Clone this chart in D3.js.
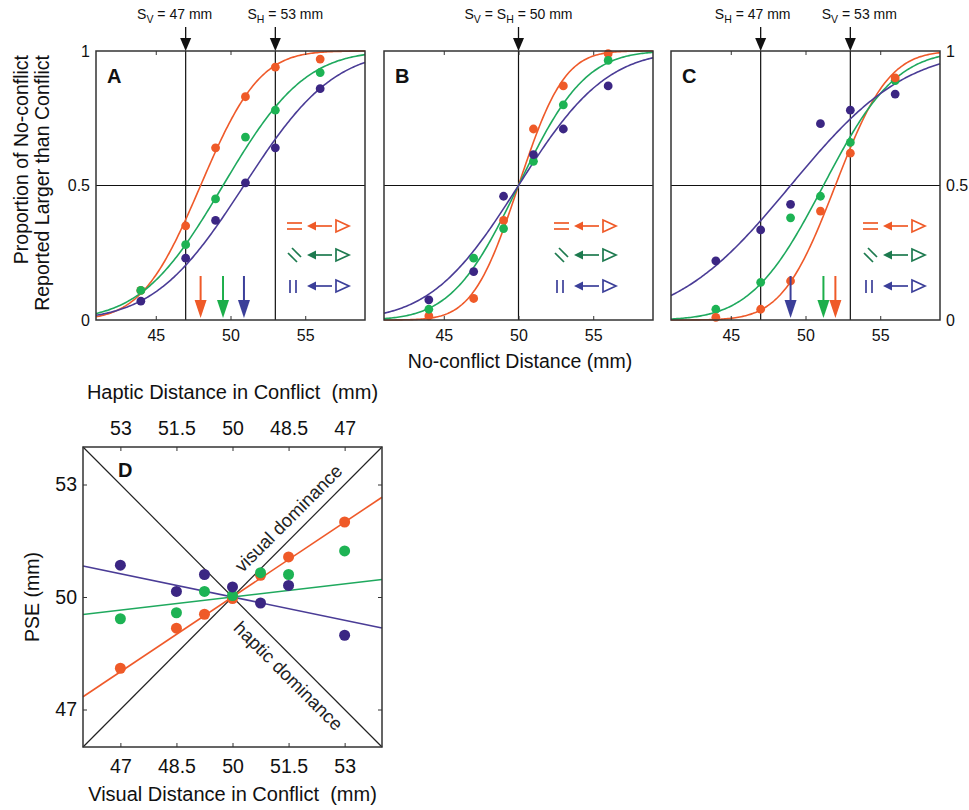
<!DOCTYPE html>
<html>
<head>
<meta charset="utf-8">
<script src="https://cdn.jsdelivr.net/npm/d3@7"></script>
<style>
  body { margin: 0; background: #fff; }
  svg { font-family: "Liberation Sans", Arial, sans-serif; }
</style>
</head>
<body>
<div id="chart"></div>
<script>
// ---- data ----
const distances = [44, 47, 49, 51, 53, 56];
const xTicks = [45, 50, 55];
const yTicks = [0, 0.5, 1];

// proportion "no-conflict larger" : horizontal (=), oblique (\\), vertical (||)
const aHorizontal = [0.11, 0.35, 0.64, 0.83, 0.94, 0.97];
const aOblique    = [0.11, 0.28, 0.45, 0.68, 0.78, 0.92];
const aVertical   = [0.07, 0.23, 0.37, 0.51, 0.64, 0.86];

const bHorizontal = [0.015, 0.08, 0.37, 0.71, 0.87, 0.99];
const bOblique    = [0.04, 0.23, 0.34, 0.59, 0.80, 0.965];
const bVertical   = [0.075, 0.18, 0.46, 0.615, 0.71, 0.87];

const cHorizontal = [0.01, 0.04, 0.145, 0.405, 0.62, 0.90];
const cOblique    = [0.04, 0.14, 0.38, 0.46, 0.66, 0.89];
const cVertical   = [0.22, 0.335, 0.43, 0.73, 0.78, 0.84];

// fitted cumulative gaussians (PSE, sigma)
const pseA = [48.0, 49.5, 50.9], sigmaA = [3.1, 4.3, 4.7];
const pseB = [50.0, 50.0, 50.0], sigmaB = [2.4, 3.5, 4.6];
const pseC = [52.0, 51.2, 49.0], sigmaC = [2.8, 3.8, 6.0];

// standards shown above each panel
const standardsA = [{ value: 47, subs: ['V'] }, { value: 53, subs: ['H'] }];
const standardsB = [{ value: 50, subs: ['V', 'H'] }];
const standardsC = [{ value: 47, subs: ['H'] }, { value: 53, subs: ['V'] }];

// panel D
const dVisual     = [47, 48.5, 49.25, 50, 50.75, 51.5, 53];
const dHorizontal = [48.1, 49.17, 49.54, 49.96, 50.58, 51.07, 52.0];
const dOblique    = [49.42, 49.58, 50.15, 50.04, 50.65, 50.6, 51.23];
const dVertical   = [50.85, 50.15, 50.6, 50.27, 49.84, 50.31, 48.98];
const dSlopes     = [0.665, 0.117, -0.207];
const dTicks      = [47, 48.5, 50, 51.5, 53];
const dYTicks     = [47, 50, 53];

// ---- styling ----
const width = 969, height = 810;
const curveColors = ['#ef5a2a', '#1fa95e', '#4a3c96'];
const dotColors = ['#ef5a28', '#1db354', '#3b2683'];
const arrowColors = ['#ef5a28', '#1cae4a', '#3b3f99'];
const legendColors = ['#ef5a28', '#1d7a4f', '#3b3f99'];
const frameColor = '#333';

function normCdf(z) {
  const x = Math.abs(z) / Math.SQRT2;
  const t = 1 / (1 + 0.3275911 * x);
  const erf = 1 - (((((1.061405429 * t - 1.453152027) * t) + 1.421413741) * t - 0.284496736) * t + 0.254829592) * t * Math.exp(-x * x);
  return 0.5 * (1 + (z < 0 ? -erf : erf));
}

const svg = d3.select('#chart').append('svg')
  .attr('width', width)
  .attr('height', height);

const panelTop = 51, pw = 269, ph = 269;
const panels = [
  { key: 'A', left: 96, props: [aHorizontal, aOblique, aVertical], pse: pseA, sigma: sigmaA,
    standards: standardsA, labelDx: [-11, 10], pseArrows: true, yAxis: 'left', legendX: 191, order: [0, 1, 2] },
  { key: 'B', left: 384, props: [bHorizontal, bOblique, bVertical], pse: pseB, sigma: sigmaB,
    standards: standardsB, labelDx: [0], pseArrows: false, yAxis: null, legendX: 170, order: [0, 1, 2] },
  { key: 'C', left: 671, props: [cHorizontal, cOblique, cVertical], pse: pseC, sigma: sigmaC,
    standards: standardsC, labelDx: [-8, 9], pseArrows: true, yAxis: 'right', legendX: 192, order: [1, 0, 2] }
];

const x = d3.scaleLinear().domain([41, 59]).range([0, pw]);
const y = d3.scaleLinear().domain([0, 1]).range([ph, 0]);
const curveXs = d3.range(41, 59.001, 0.1);
const legendRows = [175, 204, 235];

panels.forEach(p => {
  const g = svg.append('g').attr('transform', `translate(${p.left},${panelTop})`);

  // crosshair lines at the standards and at 0.5
  g.append('line')
    .attr('x1', 0).attr('x2', pw)
    .attr('y1', y(0.5)).attr('y2', y(0.5))
    .attr('stroke', '#111').attr('stroke-width', 1.2);
  g.selectAll('.std').data(p.standards).join('line')
    .attr('x1', d => x(d.value)).attr('x2', d => x(d.value))
    .attr('y1', 0).attr('y2', ph)
    .attr('stroke', '#111').attr('stroke-width', 1.2);

  // fitted curves
  const line = d3.line().x(d => x(d[0])).y(d => y(d[1]));
  p.pse.forEach((m, i) => {
    g.append('path')
      .datum(curveXs.map(v => [v, normCdf((v - m) / p.sigma[i])]))
      .attr('d', line)
      .attr('fill', 'none')
      .attr('stroke', curveColors[i])
      .attr('stroke-width', 1.6);
  });

  // data points
  p.order.forEach(i => {
    g.append('g').selectAll('circle')
      .data(p.props[i].map((v, j) => [distances[j], v]))
      .join('circle')
      .attr('cx', d => x(d[0]))
      .attr('cy', d => y(d[1]))
      .attr('r', 4.4)
      .attr('fill', dotColors[i]);
  });

  // PSE arrows
  if (p.pseArrows) {
    p.pse.forEach((m, i) => {
      const ax = x(m);
      g.append('line')
        .attr('x1', ax).attr('x2', ax).attr('y1', 225).attr('y2', 252)
        .attr('stroke', arrowColors[i]).attr('stroke-width', 2);
      g.append('path')
        .attr('d', `M${ax - 6},249 L${ax + 6},249 L${ax},267 Z`)
        .attr('fill', arrowColors[i]);
    });
  }

  // legend
  legendRows.forEach((cy, i) => {
    const lx = p.legendX;
    const c = legendColors[i];
    const lg = g.append('g').attr('stroke', c).attr('stroke-width', 1.7).attr('fill', 'none');
    if (i === 0) {
      lg.append('line').attr('x1', lx).attr('x2', lx + 15).attr('y1', cy - 3).attr('y2', cy - 3);
      lg.append('line').attr('x1', lx).attr('x2', lx + 15).attr('y1', cy + 3).attr('y2', cy + 3);
    } else if (i === 1) {
      lg.append('line').attr('x1', lx + 1).attr('x2', lx + 10).attr('y1', cy - 2).attr('y2', cy + 7);
      lg.append('line').attr('x1', lx + 5).attr('x2', lx + 14).attr('y1', cy - 7).attr('y2', cy + 2);
    } else {
      lg.append('line').attr('x1', lx + 3).attr('x2', lx + 3).attr('y1', cy - 6).attr('y2', cy + 7);
      lg.append('line').attr('x1', lx + 9).attr('x2', lx + 9).attr('y1', cy - 6).attr('y2', cy + 7);
    }
    lg.append('line').attr('x1', lx + 26).attr('x2', lx + 45).attr('y1', cy).attr('y2', cy);
    lg.append('path').attr('d', `M${lx + 20},${cy} L${lx + 29},${cy - 4.5} L${lx + 29},${cy + 4.5} Z`)
      .attr('fill', c).attr('stroke', 'none');
    lg.append('path').attr('d', `M${lx + 49},${cy - 6} L${lx + 62},${cy} L${lx + 49},${cy + 6} Z`);
  });

  // frame
  g.append('rect').attr('width', pw).attr('height', ph)
    .attr('fill', 'none').attr('stroke', frameColor).attr('stroke-width', 1.5);

  // axes
  g.append('g').attr('transform', `translate(0,${ph})`)
    .call(d3.axisBottom(x).tickValues(xTicks).tickSize(-4).tickPadding(10));
  g.append('g').call(d3.axisTop(x).tickValues(xTicks).tickSize(-4).tickFormat(''));
  if (p.yAxis === 'left') {
    g.append('g').call(d3.axisLeft(y).tickValues(yTicks).tickSize(0).tickPadding(6).tickFormat(d => String(d)));
  } else if (p.yAxis === 'right') {
    g.append('g').attr('transform', `translate(${pw},0)`)
      .call(d3.axisRight(y).tickValues(yTicks).tickSize(0).tickPadding(6).tickFormat(d => String(d)));
  }
  g.selectAll('.domain').remove();
  g.selectAll('.tick line').attr('stroke', frameColor);
  g.selectAll('.tick text').attr('font-size', 16).attr('fill', '#111').attr('font-family', null);

  // panel letter
  g.append('text').attr('x', 11).attr('y', 32)
    .attr('font-size', 20).attr('font-weight', 'bold').attr('fill', '#111')
    .text(p.key);

  // standards arrows and labels
  p.standards.forEach((s, k) => {
    const sx = x(s.value);
    g.append('line').attr('x1', sx).attr('x2', sx).attr('y1', -24).attr('y2', -10)
      .attr('stroke', '#111').attr('stroke-width', 1.3);
    g.append('path').attr('d', `M${sx - 5.5},-13 L${sx + 5.5},-13 L${sx},0 Z`).attr('fill', '#111');
    const t = g.append('text').attr('x', sx + p.labelDx[k]).attr('y', -32)
      .attr('text-anchor', 'middle').attr('font-size', 14).attr('fill', '#111');
    s.subs.forEach(sub => {
      t.append('tspan').text('S');
      t.append('tspan').attr('dy', 4).attr('font-size', 10.5).text(sub);
      t.append('tspan').attr('dy', -4).text(' = ');
    });
    t.append('tspan').text(s.value + ' mm');
  });
});

// shared labels for top row
svg.append('text')
  .attr('transform', 'translate(28,55) rotate(-90)')
  .attr('text-anchor', 'end').attr('font-size', 19.5).attr('fill', '#111')
  .text('Proportion of No-conflict');
svg.append('text')
  .attr('transform', 'translate(49,55) rotate(-90)')
  .attr('text-anchor', 'end').attr('font-size', 19.5).attr('fill', '#111')
  .text('Reported Larger than Conflict');
svg.append('text')
  .attr('x', 520).attr('y', 368)
  .attr('text-anchor', 'middle').attr('font-size', 19.5).attr('fill', '#111')
  .text('No-conflict Distance (mm)');

// ---- panel D ----
const dl = 83, dt = 447, dw = 299, dh = 300;
const xd = d3.scaleLinear().domain([46, 54]).range([0, dw]);
const xh = d3.scaleLinear().domain([54, 46]).range([0, dw]);
const yd = d3.scaleLinear().domain([46, 54]).range([dh, 0]);
const gd = svg.append('g').attr('transform', `translate(${dl},${dt})`);

// dominance diagonals
gd.append('line').attr('x1', xd(46)).attr('y1', yd(46)).attr('x2', xd(54)).attr('y2', yd(54))
  .attr('stroke', '#222').attr('stroke-width', 1.2);
gd.append('line').attr('x1', xd(46)).attr('y1', yd(54)).attr('x2', xd(54)).attr('y2', yd(46))
  .attr('stroke', '#222').attr('stroke-width', 1.2);

gd.append('text')
  .attr('transform', `translate(${xd(51.8)},${yd(51.8)}) rotate(-45)`)
  .attr('y', -16).attr('dy', '0.35em')
  .attr('text-anchor', 'middle').attr('font-size', 18.5).attr('fill', '#222')
  .text('visual dominance');
gd.append('text')
  .attr('transform', `translate(${xd(51.8)},${yd(48.2)}) rotate(45)`)
  .attr('y', 16).attr('dy', '0.35em')
  .attr('text-anchor', 'middle').attr('font-size', 18.5).attr('fill', '#222')
  .text('haptic dominance');

// regression lines
dSlopes.forEach((s, i) => {
  gd.append('line')
    .attr('x1', xd(46)).attr('y1', yd(50 + s * (46 - 50)))
    .attr('x2', xd(54)).attr('y2', yd(50 + s * (54 - 50)))
    .attr('stroke', curveColors[i]).attr('stroke-width', 1.6);
});

// points
[dHorizontal, dOblique, dVertical].forEach((arr, i) => {
  gd.append('g').selectAll('circle')
    .data(arr.map((v, j) => [dVisual[j], v]))
    .join('circle')
    .attr('cx', d => xd(d[0]))
    .attr('cy', d => yd(d[1]))
    .attr('r', 5.5)
    .attr('fill', dotColors[i]);
});

gd.append('rect').attr('width', dw).attr('height', dh)
  .attr('fill', 'none').attr('stroke', frameColor).attr('stroke-width', 1.5);

gd.append('g').attr('transform', `translate(0,${dh})`)
  .call(d3.axisBottom(xd).tickValues(dTicks).tickSize(-4).tickPadding(12).tickFormat(d => String(d)));
gd.append('g')
  .call(d3.axisTop(xh).tickValues(dTicks).tickSize(-4).tickPadding(12).tickFormat(d => String(d)));
gd.append('g')
  .call(d3.axisLeft(yd).tickValues(dYTicks).tickSize(-4).tickPadding(6).tickFormat(d => String(d)));
gd.append('g').attr('transform', `translate(${dw},0)`)
  .call(d3.axisRight(yd).tickValues(dYTicks).tickSize(-4).tickFormat(''));
gd.selectAll('.domain').remove();
gd.selectAll('.tick line').attr('stroke', frameColor);
gd.selectAll('.tick text').attr('font-size', 19.5).attr('fill', '#111').attr('font-family', null);

gd.append('text').attr('x', 35).attr('y', 30)
  .attr('font-size', 20).attr('font-weight', 'bold').attr('fill', '#111')
  .text('D');

svg.append('text')
  .attr('x', dl + dw / 2).attr('y', 399)
  .attr('text-anchor', 'middle').attr('font-size', 20).attr('fill', '#111')
  .attr('xml:space', 'preserve')
  .text('Haptic Distance in Conflict  (mm)');
svg.append('text')
  .attr('x', dl + dw / 2).attr('y', 801)
  .attr('text-anchor', 'middle').attr('font-size', 20).attr('fill', '#111')
  .attr('xml:space', 'preserve')
  .text('Visual Distance in Conflict  (mm)');
svg.append('text')
  .attr('transform', `translate(39,${dt + dh / 2}) rotate(-90)`)
  .attr('text-anchor', 'middle').attr('font-size', 19.5).attr('fill', '#111')
  .text('PSE (mm)');
</script>
</body>
</html>
